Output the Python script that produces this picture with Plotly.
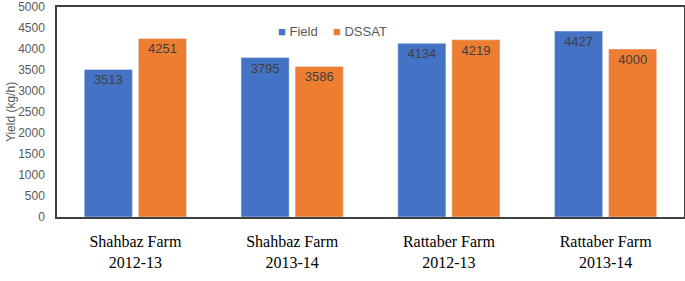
import plotly.graph_objects as go

categories = ["Shahbaz Farm<br>2012-13", "Shahbaz Farm<br>2013-14",
              "Rattaber Farm<br>2012-13", "Rattaber Farm<br>2013-14"]
field = [3513, 3795, 4134, 4427]
dssat = [4251, 3586, 4219, 4000]
y_ticks = list(range(0, 5001, 500))
series_names = ["Field", "DSSAT"]
series_colors = ["#4472C4", "#ED7D31"]

fig = go.Figure()
for name, vals, col in zip(series_names, [field, dssat], series_colors):
    fig.add_trace(go.Bar(name=name, x=categories, y=vals, text=vals,
                         marker=dict(color=col),
                         textposition="inside", insidetextanchor="end",
                         textfont=dict(color="#404040", size=13, family="Liberation Sans")))

fig.update_layout(
    width=685, height=281,
    margin=dict(l=57, r=1, t=7, b=64),
    paper_bgcolor="white", plot_bgcolor="white",
    barmode="group", bargap=0.31, bargroupgap=0.11,
    uniformtext=dict(minsize=13, mode="show"),
    font=dict(family="Liberation Sans", color="#595959", size=12),
    showlegend=False,
)
# legend drawn as text entries
legend_x = [0.350, 0.437]
for name, col, lx in zip(series_names, series_colors, legend_x):
    fig.add_annotation(xref="paper", yref="paper", x=lx, y=0.885, xanchor="left", yanchor="middle",
                       showarrow=False,
                       text=f"<span style='color:{col}'>■</span> {name}",
                       font=dict(size=13, color="#595959", family="Liberation Sans"))

fig.update_yaxes(range=[0, 5000], tickvals=y_ticks, showgrid=False, automargin=False,
                 showline=True, linecolor="#404040", linewidth=1.5, mirror=True,
                 ticks="", tickfont=dict(size=12, color="#595959"), ticklabelstandoff=8,
                 ticklabeloverflow="allow",
                 title=dict(text="Yield (kg/h)", font=dict(size=12, color="#595959"), standoff=0))
fig.update_xaxes(showgrid=False, showline=True, linecolor="#404040", linewidth=1.5,
                 mirror=True, ticks="", automargin=False,
                 tickfont=dict(family="Liberation Serif", size=16, color="black"),
                 ticklabelstandoff=9)

fig.write_html("out.html", config={"displayModeBar": False},
               post_script="document.body.style.margin='0';")
